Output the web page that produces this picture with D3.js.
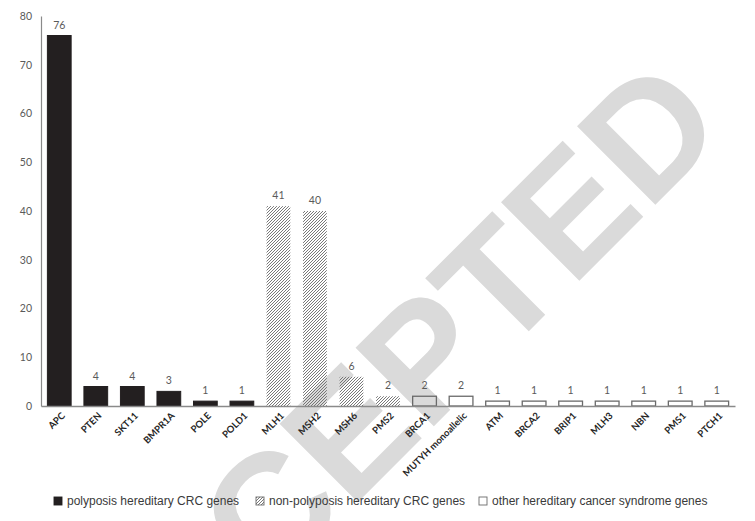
<!DOCTYPE html>
<html>
<head>
<meta charset="utf-8">
<script src="https://cdn.jsdelivr.net/npm/d3@7"></script>
<style>
  html, body { margin: 0; padding: 0; background: #fff; }
  svg { display: block; }
</style>
</head>
<body>
<svg id="chart" width="755" height="521"></svg>
<script>
const categories = ["APC","PTEN","SKT11","BMPR1A","POLE","POLD1","MLH1","MSH2","MSH6","PMS2","BRCA1","MUTYH monoallelic","ATM","BRCA2","BRIP1","MLH3","NBN","PMS1","PTCH1"];
const values = [76,4,4,3,1,1,41,40,6,2,2,2,1,1,1,1,1,1,1];
const groups = ["poly","poly","poly","poly","poly","poly","nonpoly","nonpoly","nonpoly","nonpoly","other","other","other","other","other","other","other","other","other"];
const groupKeys = ["poly","nonpoly","other"];
const groupLabels = ["polyposis hereditary CRC genes","non-polyposis hereditary CRC genes","other hereditary cancer syndrome genes"];
const yTicks = [0,10,20,30,40,50,60,70,80];
const watermarkText = "ACCEPTED";

const svg = d3.select("#chart");
const defs = svg.append("defs");
const pat = defs.append("pattern")
  .attr("id","hatch").attr("patternUnits","userSpaceOnUse")
  .attr("width",3).attr("height",3);
pat.append("path")
  .attr("d","M-1,1 l2,-2 M0,3 l3,-3 M2,4 l2,-2")
  .attr("stroke","#6a6a6a").attr("stroke-width",0.9);

// watermark
svg.append("text")
  .attr("transform","translate(103.7,756.3) rotate(-45)")
  .attr("font-family","'Liberation Sans', Arial, sans-serif")
  .attr("font-weight","bold")
  .attr("font-size",161)
  .attr("fill","#dadada")
  .text(watermarkText);

const x = d3.scaleBand().domain(categories).range([41, 735]).paddingInner(0.35).paddingOuter(0.175);
const y = d3.scaleLinear().domain([0,80]).range([406,16]);

// y axis
const yAxis = svg.append("g").attr("transform","translate(41,0)")
  .call(d3.axisLeft(y).tickValues(yTicks).tickSize(0).tickPadding(9));
yAxis.select(".domain").attr("stroke","#8a8a8a").attr("stroke-width",1.2);
yAxis.selectAll("text").attr("font-family","Lato, 'Open Sans', sans-serif")
  .attr("font-size",10.5).attr("fill","#5a5a5a");

// bars
const fillFor = g => g === "poly" ? "#231f20" : (g === "nonpoly" ? "url(#hatch)" : "none");
const strokeFor = g => g === "poly" ? "#231f20" : (g === "nonpoly" ? "none" : "#6a6a6a");
svg.append("g").selectAll("rect").data(categories).join("rect")
  .attr("x", d => x(d))
  .attr("y", (d,i) => y(values[i]))
  .attr("width", x.bandwidth())
  .attr("height", (d,i) => y(0) - y(values[i]))
  .attr("fill", (d,i) => fillFor(groups[i]))
  .attr("stroke", (d,i) => strokeFor(groups[i]))
  .attr("stroke-width", (d,i) => groups[i] === "other" ? 1.3 : 1);

// value labels
svg.append("g").selectAll("text").data(categories).join("text")
  .attr("x", d => x(d) + x.bandwidth()/2)
  .attr("y", (d,i) => y(values[i]) - 7)
  .attr("text-anchor","middle")
  .attr("font-family","Lato, 'Open Sans', sans-serif")
  .attr("font-size",10.5).attr("fill","#5a5a5a")
  .text((d,i) => values[i]);

// x axis
const xAxis = svg.append("g").attr("transform","translate(0,406)")
  .call(d3.axisBottom(x).tickSize(0).tickSizeOuter(0));
xAxis.select(".domain").attr("stroke","#8a8a8a").attr("stroke-width",1.5);
xAxis.selectAll("text")
  .attr("font-family","Lato, 'Open Sans', sans-serif")
  .attr("font-weight","bold")
  .attr("font-size",9.5).attr("fill","#262626")
  .attr("text-anchor","end")
  .attr("dy","0.35em")
  .attr("transform","translate(4,8) rotate(-45)")
  .attr("y",0).attr("x",0);

// legend
const legX = [54, 256, 479];
const leg = svg.append("g");
groupKeys.forEach((k,i) => {
  const g = leg.append("g").attr("transform",`translate(${legX[i]},501)`);
  g.append("rect").attr("x",0).attr("y",-4).attr("width",8).attr("height",8)
    .attr("fill", k === "poly" ? "#231f20" : (k === "nonpoly" ? "url(#hatch)" : "#fff"))
    .attr("stroke", k === "poly" ? "#231f20" : "#6a6a6a").attr("stroke-width",0.9);
  g.append("text").attr("x",13).attr("y",0).attr("dy","0.36em")
    .attr("font-family","'Liberation Sans', Arial, sans-serif")
    .attr("font-size",12).attr("fill","#3a3a3a")
    .text(groupLabels[i]);
});
</script>
</body>
</html>
